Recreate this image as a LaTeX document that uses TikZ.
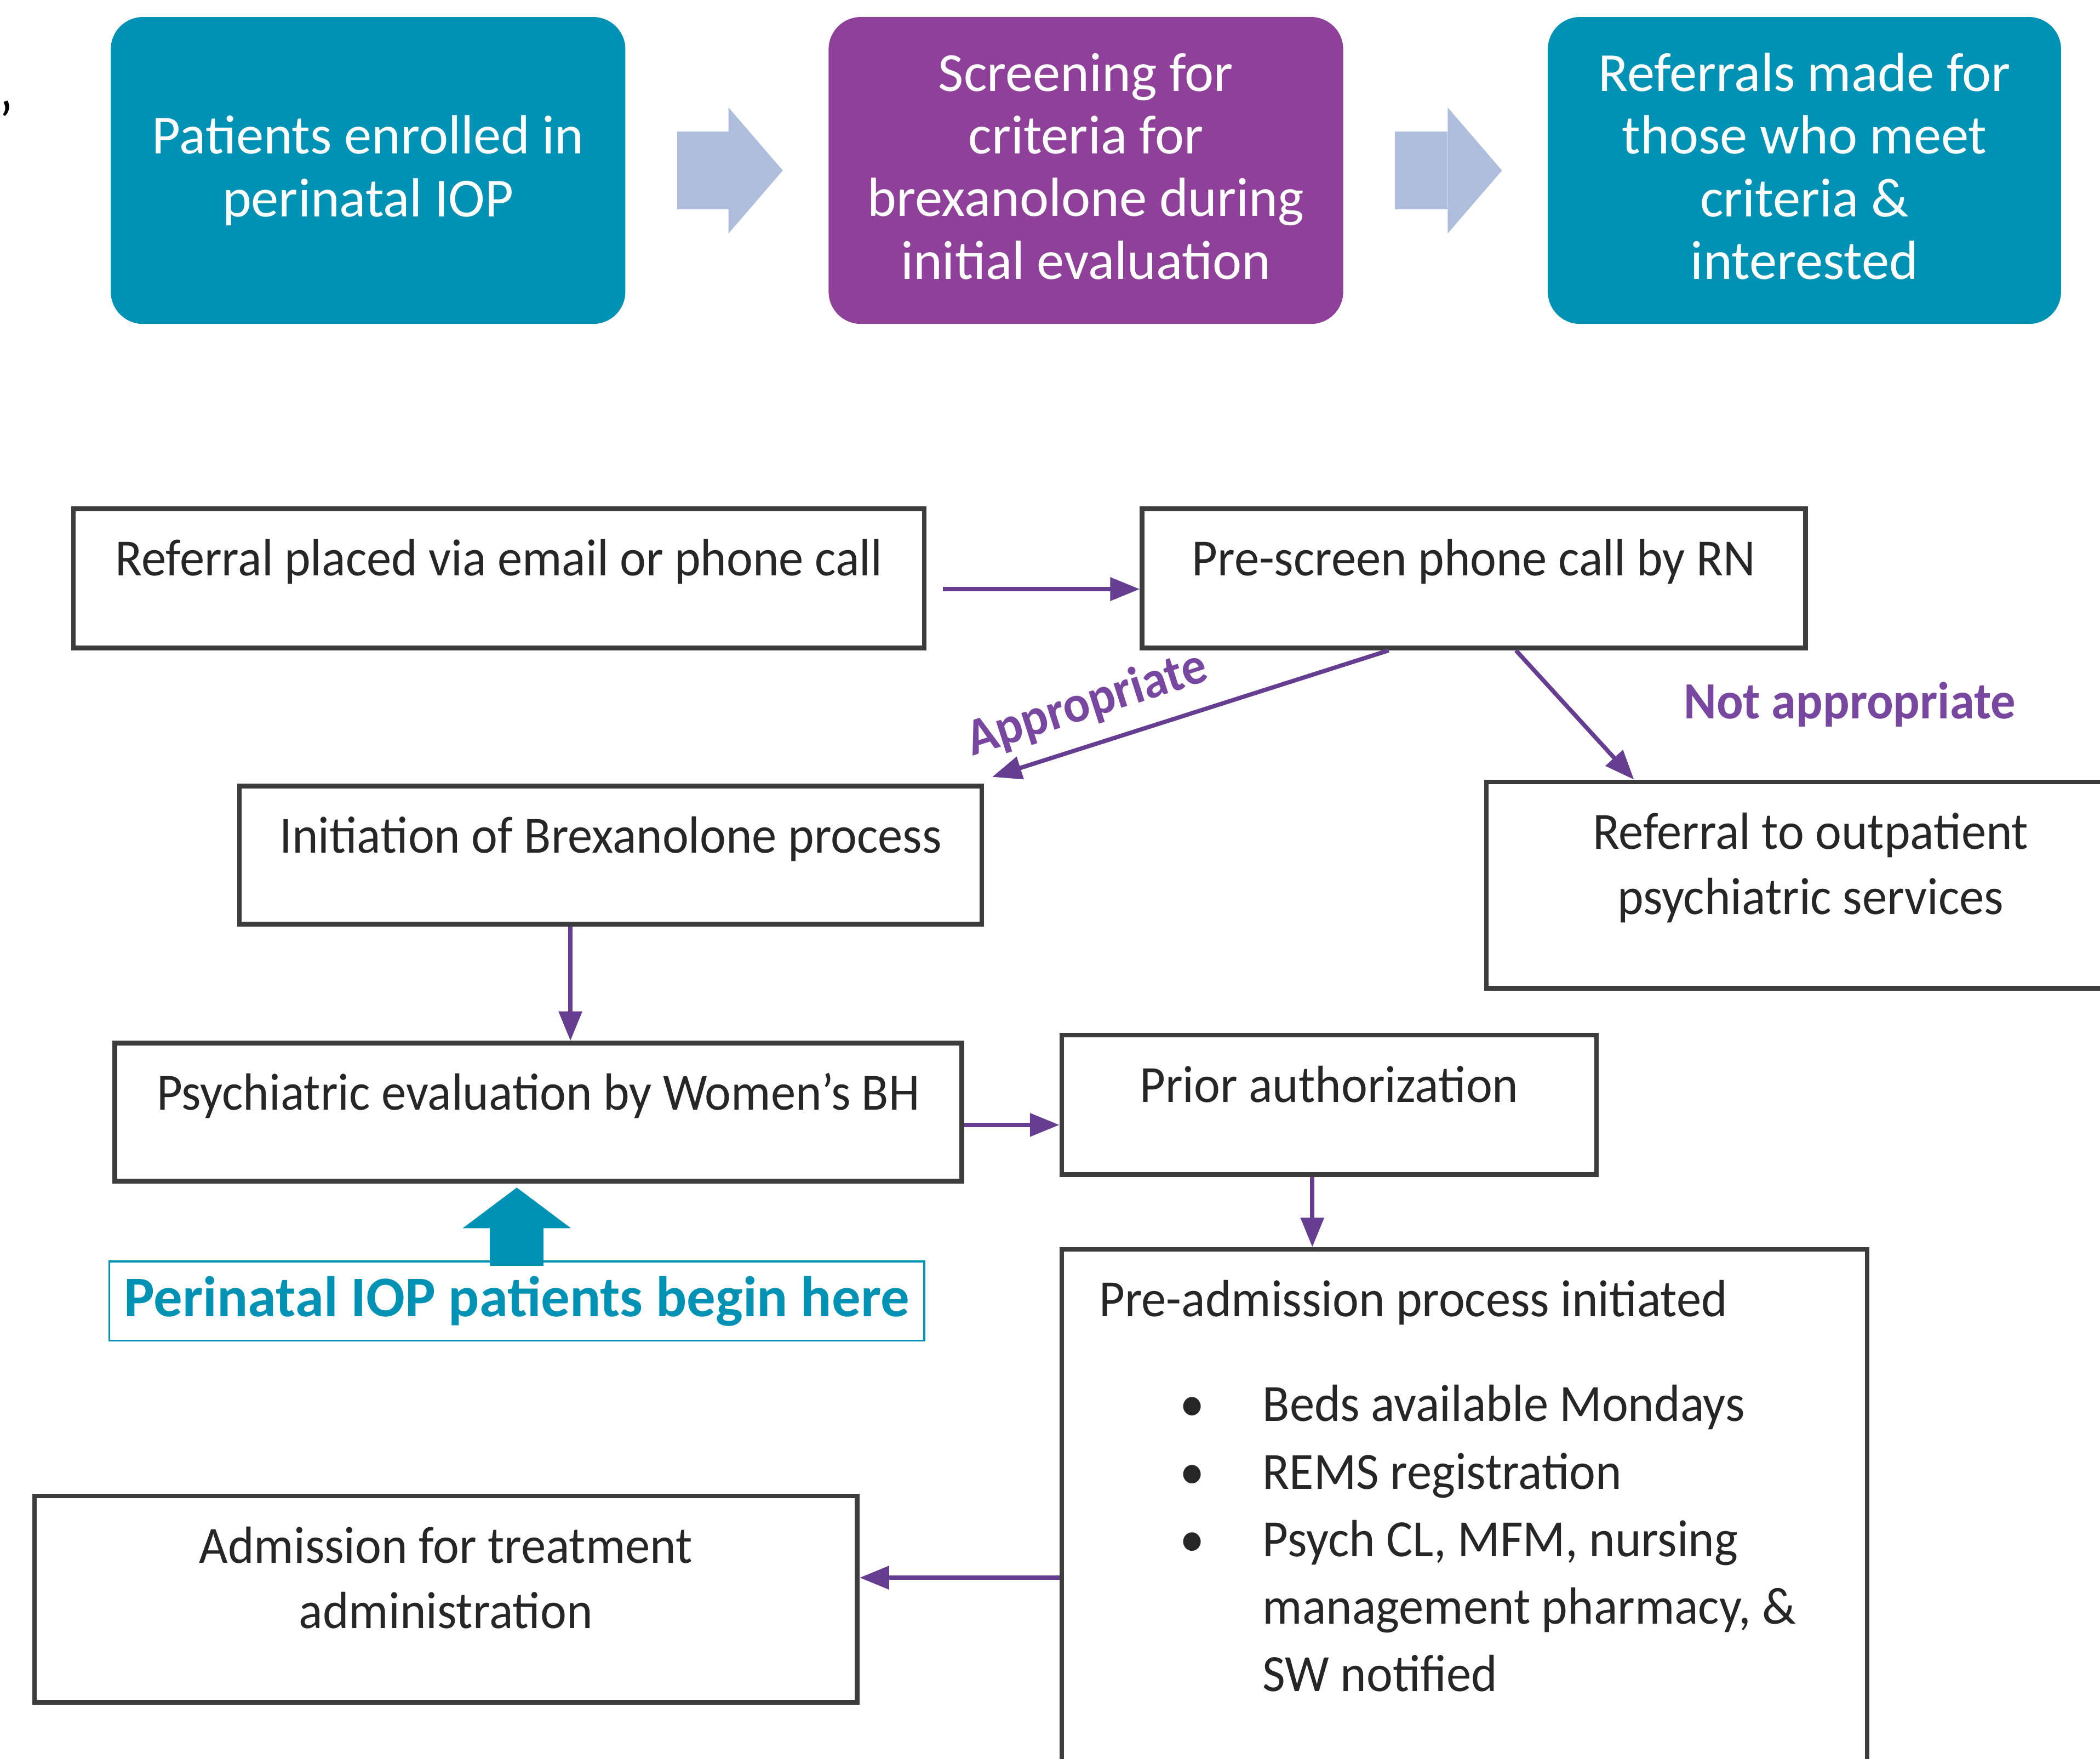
\documentclass[tikz,border=0pt]{standalone}
\usepackage{fontspec}
\setmainfont{Carlito}
\newfontfamily\scanfont[FakeStretch=0.95]{Carlito}
\usetikzlibrary{arrows.meta, positioning}

\definecolor{iopteal}{RGB}{0,146,181}
\definecolor{ioppurple}{RGB}{143,65,153}
\definecolor{chevroncol}{RGB}{176,190,222}
\definecolor{flowpurple}{RGB}{102,62,145}
\definecolor{labelpurple}{RGB}{120,72,160}
\definecolor{boxline}{RGB}{60,60,60}

\newcommand{\rows}[1]{\begin{tabular}[t]{@{}c@{}}#1\end{tabular}}

\tikzset{
  topbox/.style={rounded corners=2.4mm, text=white, align=center, anchor=north west,
    minimum height=2.29cm, font=\fontsize{11.7}{13.3}\selectfont},
  flowbox/.style={draw=boxline, line width=1pt, anchor=north west, inner sep=0pt,
    text height=5mm, text=black!85, font=\scanfont\fontsize{11.1}{13.9}\selectfont},
  flow/.style={draw=flowpurple, line width=0.9pt, -{Triangle[length=2.2mm,width=1.7mm]}},
  chevron/.style={draw=chevroncol, line width=5.8mm,
    -{Triangle[length=4.05mm,width=9.4mm,line width=0pt]}},
  decision/.style={text=labelpurple, font=\scanfont\bfseries\fontsize{11.1}{13.9}\selectfont},
}

\begin{document}
\begin{tikzpicture}[x=0.01cm, y=-0.01cm]
  \useasboundingbox (0,0) rectangle (1568,1313);
  \clip (0,0) rectangle (1568,1313);

  \node[font=\fontsize{12}{14}\selectfont] (tick) at (4.5,90) {’};

  % Top row
  \node[topbox, fill=iopteal, minimum width=3.84cm] (enrolled) at (82,12)
    {Patients enrolled in\\perinatal IOP};
  \node[topbox, fill=ioppurple, minimum width=3.84cm] (screening) at (618,12)
    {Screening for\\criteria for\\brexanolone during\\initial evaluation\vphantom{p}};
  \node[topbox, fill=iopteal, minimum width=3.83cm] (referrals) at (1155,12)
    {Referrals made for\\those who meet\\criteria \&\\interested\vphantom{p}};

  \draw[chevron] ([xshift=0.38cm]enrolled.east) -- ([xshift=-0.335cm]screening.west);
  \draw[chevron] ([xshift=0.38cm]screening.east) -- ([xshift=-0.335cm]referrals.west);

  % Referral pathway
  \node[flowbox, minimum width=6.35cm, text depth=5.4mm] (referral) at (53,378)
    {Referral placed via email or phone call};
  \node[flowbox, minimum width=4.95cm, text depth=5.4mm] (prescreen) at (851,378)
    {Pre-screen phone call by RN};
  \node[flowbox, minimum width=5.54cm, text depth=5.3mm] (initiation) at (177,585)
    {Initiation of Brexanolone process};
  \node[flowbox, minimum width=4.84cm, text depth=10.4mm] (outpatient) at (1108,582)
    {\rows{Referral to outpatient\\psychiatric services}};
  \node[flowbox, minimum width=6.32cm, text depth=5.3mm] (psych) at (84,777)
    {Psychiatric evaluation by Women’s BH};
  \node[flowbox, minimum width=3.99cm, text depth=5.4mm] (prior) at (791,771)
    {Prior authorization};
  \node[flowbox, minimum width=6.01cm, text depth=34mm] (preadmit) at (791,931)
    {\renewcommand{\arraystretch}{1.03}%
     \begin{tabular}[t]{@{}p{5.45cm}@{}}
      Pre-admission process initiated\\[2.8mm]
      \hspace*{0.6cm}\makebox[0.62cm][l]{\textbullet}Beds available Mondays\\
      \hspace*{0.6cm}\makebox[0.62cm][l]{\textbullet}REMS registration\\
      \hspace*{0.6cm}\makebox[0.62cm][l]{\textbullet}Psych CL, MFM, nursing\\
      \hspace*{1.22cm}management pharmacy, \&\\
      \hspace*{1.22cm}SW notified
    \end{tabular}};
  \node[flowbox, minimum width=6.14cm, text depth=10.4mm] (admission) at (24,1115)
    {\rows{Admission for treatment\\administration}};

  \node[draw=iopteal, line width=0.4pt, anchor=north west, minimum width=6.08cm,
    minimum height=0.59cm, inner sep=0pt, text=iopteal,
    font=\bfseries\fontsize{12.2}{14}\selectfont] (beginhere) at (81,941)
    {Perinatal IOP patients begin here};

  % Connectors
  \coordinate (initout) at ([xshift=-0.30cm]initiation.south);
  \coordinate (psychout) at ([yshift=-0.095cm]psych.east);
  \coordinate (priorout) at ([xshift=-0.125cm]prior.south);
  \coordinate (admitin) at ([yshift=0.16cm]admission.east);

  \draw[flow] ([shift={(0.12cm,-0.08cm)}]referral.east) -- ([yshift=-0.08cm]prescreen.west);
  \draw[flow] ([xshift=-0.635cm]prescreen.south)
    -- node[decision, pos=0.73, sloped, above] (appropriate) {Appropriate}
    ([shift={(0.06cm,0.05cm)}]initiation.north east);
  \draw[flow] ([xshift=0.315cm]prescreen.south)
    -- node[decision, pos=0.42, right=0.75cm] (notappropriate) {Not appropriate}
    ([xshift=1.12cm]outpatient.north west);
  \draw[flow] (initout) -- (initout |- psych.north);
  \draw[flow] (psychout) -- (psychout -| prior.west);
  \draw[flow] (priorout) -- (priorout |- preadmit.north);
  \draw[flow] (preadmit.west |- admitin) -- (admitin);

  \draw[draw=iopteal, line width=4mm, -{Triangle[length=3.03mm,width=8.07mm,line width=0pt]}]
    ([yshift=-0.04cm]beginhere.north) -- ([yshift=-0.03cm]beginhere.north |- psych.south);
\end{tikzpicture}
\end{document}
